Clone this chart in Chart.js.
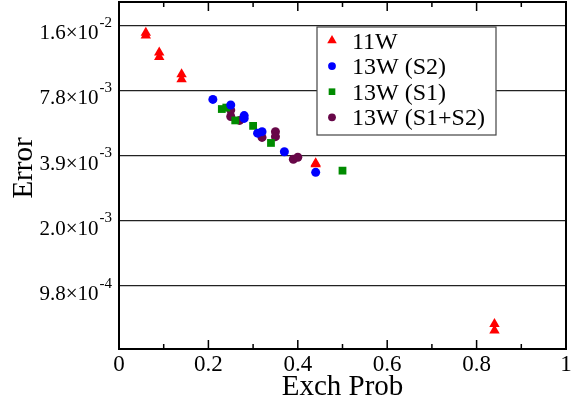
<!DOCTYPE html>
<html>
<head>
<meta charset="utf-8">
<script src="https://cdn.jsdelivr.net/npm/chart.js@4.4.1/dist/chart.umd.min.js"></script>
<style>
  html, body { margin: 0; padding: 0; background: #fff; }
  #wrap { width: 584px; height: 407px; }
</style>
</head>
<body>
<div id="wrap"><canvas id="err-chart" width="584" height="407"></canvas></div>
<script>
// Error vs exchange probability, log2-spaced y axis, xmgrace look

const SERIF = "'Liberation Serif', 'DejaVu Serif', serif";

// --- data ---
const w11Prob = [0.06, 0.06, 0.09, 0.09, 0.14, 0.14, 0.44, 0.44, 0.84, 0.84];
const w11Err  = [0.01443, 0.01401, 0.01168, 0.01116, 0.00929, 0.00880, 0.00360, 0.00356, 0.000653, 0.000609];

const s2Prob = [0.21, 0.25, 0.28, 0.28, 0.31, 0.32, 0.37, 0.44];
const s2Err  = [0.00710, 0.00669, 0.00598, 0.00580, 0.00496, 0.00504, 0.00407, 0.00327];

const s1Prob = [0.23, 0.24, 0.26, 0.30, 0.34, 0.50];
const s1Err  = [0.00641, 0.00651, 0.00568, 0.00536, 0.00447, 0.00333];

const s12Prob = [0.25, 0.25, 0.27, 0.32, 0.35, 0.35, 0.39, 0.40];
const s12Err  = [0.00634, 0.00592, 0.00568, 0.00474, 0.00504, 0.00478, 0.00376, 0.00384];

const seriesLabels = ['11W', '13W (S2)', '13W (S1)', '13W (S1+S2)'];

// --- ticks ---
const xTicks = [0, 0.2, 0.4, 0.6, 0.8, 1];
const xMinorTicks = [0.1, 0.3, 0.5, 0.7, 0.9];
const yTicks = [0.0009765625, 0.001953125, 0.00390625, 0.0078125, 0.015625];
const yTickMant = ['9.8', '2.0', '3.9', '7.8', '1.6'];
const yTickExp = ['-4', '-3', '-3', '-3', '-2'];

function pts(xs, ys){ return xs.map((x, i) => ({ x, y: ys[i] })); }

function marker(ctx, style, x, y, r){
  ctx.beginPath();
  if (style === 'triangle'){
    ctx.moveTo(x, y - r);
    ctx.lineTo(x + r * 0.866, y + r * 0.5);
    ctx.lineTo(x - r * 0.866, y + r * 0.5);
    ctx.closePath();
  } else if (style === 'rect'){
    const s = r * Math.SQRT1_2;
    ctx.rect(x - s, y - s, 2 * s, 2 * s);
  } else {
    ctx.arc(x, y, r, 0, Math.PI * 2);
  }
  ctx.fill();
}

// frame, inward ticks, y labels with superscripts, y title, legend box
const gracePlot = {
  id: 'gracePlot',
  afterDraw(chart){
    const { ctx, chartArea: a, scales: { x, y } } = chart;
    ctx.save();

    ctx.strokeStyle = '#000';
    ctx.lineWidth = 1.5;
    ctx.beginPath();
    const xt = (v, len) => {
      const px = x.getPixelForValue(v);
      ctx.moveTo(px, a.bottom); ctx.lineTo(px, a.bottom - len);
      ctx.moveTo(px, a.top); ctx.lineTo(px, a.top + len);
    };
    xTicks.forEach(v => xt(v, 9));
    xMinorTicks.forEach(v => xt(v, 5));
    ctx.stroke();

    ctx.lineWidth = 2;
    ctx.strokeRect(a.left, a.top, a.right - a.left, a.bottom - a.top);

    // y tick labels: mantissa ×10 and raised exponent
    ctx.fillStyle = '#000';
    ctx.textAlign = 'right';
    ctx.textBaseline = 'alphabetic';
    yTicks.forEach((v, i) => {
      const py = y.getPixelForValue(v);
      ctx.font = `15px ${SERIF}`;
      const supW = ctx.measureText(yTickExp[i]).width;
      const supRight = a.left - 7;
      ctx.fillText(yTickExp[i], supRight, py + 1.5);
      ctx.font = `21px ${SERIF}`;
      ctx.fillText(yTickMant[i] + '×10', supRight - supW - 1, py + 14);
    });

    // y title
    ctx.save();
    ctx.translate(32, 168);
    ctx.rotate(-Math.PI / 2);
    ctx.font = `29px ${SERIF}`;
    ctx.textAlign = 'center';
    ctx.fillText('Error', 0, 0);
    ctx.restore();

    // legend
    const bx = a.left + 198, by = 27, bw = 179, bh = 108;
    ctx.fillStyle = '#fff';
    ctx.fillRect(bx, by, bw, bh);
    ctx.strokeStyle = '#444';
    ctx.lineWidth = 1.2;
    ctx.strokeRect(bx, by, bw, bh);
    ctx.font = `24px ${SERIF}`;
    ctx.textAlign = 'left';
    chart.data.datasets.forEach((ds, i) => {
      const base = by + 21.5 + i * 25.6;
      ctx.fillStyle = ds.backgroundColor;
      marker(ctx, ds.pointStyle, bx + 15, base - 8, ds.legendRadius);
      ctx.fillStyle = '#000';
      ctx.fillText(ds.label, bx + 35, base);
    });

    ctx.restore();
  }
};

new Chart(document.getElementById('err-chart'), {
  type: 'scatter',
  data: {
    datasets: [
      { label: seriesLabels[0], data: pts(w11Prob, w11Err), pointStyle: 'triangle', pointRadius: 6, legendRadius: 5.5, backgroundColor: '#ff0000', borderWidth: 0 },
      { label: seriesLabels[1], data: pts(s2Prob, s2Err), pointStyle: 'circle', pointRadius: 4.5, legendRadius: 3.9, backgroundColor: '#0000ff', borderWidth: 0 },
      { label: seriesLabels[2], data: pts(s1Prob, s1Err), pointStyle: 'rect', pointRadius: 5.5, legendRadius: 4.7, backgroundColor: '#008b00', borderWidth: 0 },
      { label: seriesLabels[3], data: pts(s12Prob, s12Err), pointStyle: 'circle', pointRadius: 4.5, legendRadius: 3.9, backgroundColor: '#670748', borderWidth: 0 }
    ]
  },
  options: {
    responsive: false,
    animation: false,
    layout: { autoPadding: false, padding: { top: 2, right: 18, left: 0, bottom: 0 } },
    plugins: { legend: { display: false }, tooltip: { enabled: false } },
    scales: {
      x: {
        type: 'linear', min: 0, max: 1,
        afterBuildTicks: s => { s.ticks = xTicks.map(v => ({ value: v })); },
        ticks: { font: { family: SERIF, size: 23 }, color: '#000', padding: -6, maxRotation: 0, callback: v => String(v) },
        grid: { display: false },
        border: { display: false },
        title: { display: true, text: 'Exch Prob', font: { family: SERIF, size: 29 }, color: '#000', padding: { top: 0, bottom: 2 } },
        afterFit: s => { s.height = 58; }
      },
      y: {
        type: 'logarithmic', min: 5e-4, max: 2e-2,
        afterBuildTicks: s => { s.ticks = yTicks.map(v => ({ value: v })); },
        ticks: { display: false },
        grid: { color: '#222', lineWidth: 1.2, drawTicks: false },
        border: { display: false },
        afterFit: s => { s.width = 119; }
      }
    }
  },
  plugins: [gracePlot]
});
</script>
</body>
</html>
